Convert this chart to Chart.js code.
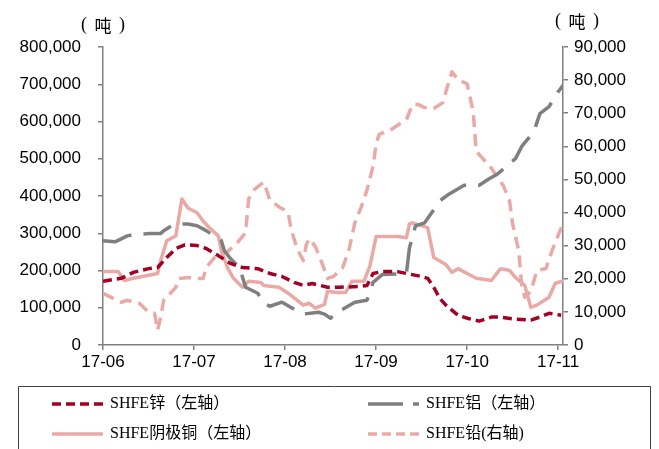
<!DOCTYPE html>
<html>
<head>
<meta charset="utf-8">
<script src="https://cdn.jsdelivr.net/npm/chart.js@4"></script>
<style>
  html, body { margin: 0; padding: 0; background: #fff; }
  #wrap { width: 659px; height: 449px; position: relative; }
</style>
</head>
<body>
<div id="wrap"><canvas id="c" width="659" height="449"></canvas></div>
<script>
// x positions are days counted from 2017-06-01 (30 per month on the axis)
const monthLabels = ['17-06', '17-07', '17-08', '17-09', '17-10', '17-11'];
const monthTicks = [0, 30, 60, 90, 120, 150];

const zincDays = [0, 6, 10, 15, 18, 21, 24, 27, 31, 34, 38, 42, 46, 51, 55, 59, 63, 66, 69, 74, 78, 84, 87, 89, 92, 97, 100, 105, 107, 109, 111, 113, 117, 120, 124, 128, 131, 136, 141, 144, 147, 151];
const zincValues = [171000, 179000, 195000, 205000, 208000, 235000, 259000, 269000, 267000, 259000, 240000, 219000, 208000, 205000, 192000, 184000, 168000, 160000, 165000, 155000, 155000, 157000, 160000, 192000, 197000, 197000, 192000, 184000, 179000, 155000, 125000, 107000, 80000, 72000, 64000, 75000, 75000, 69000, 67000, 75000, 85000, 80000];

const aluDays = [0, 4, 6, 8, 10, 15, 19, 20, 22, 24, 28, 31, 34, 36, 39, 40, 42, 45, 47, 51, 53, 55, 59, 63, 66, 71, 73, 75, 77, 79, 83, 87, 89, 92, 100, 101, 103, 106, 109, 111, 114, 119, 124, 127, 130, 133, 136, 138, 142, 144, 147, 150, 152];
const aluValues = [280000, 277000, 285000, 293000, 296000, 299000, 299000, 307000, 317000, 325000, 325000, 320000, 307000, 296000, 280000, 253000, 232000, 208000, 155000, 139000, 112000, 104000, 115000, 96000, 83000, 88000, 83000, 72000, 88000, 96000, 115000, 120000, 168000, 189000, 192000, 261000, 320000, 328000, 363000, 387000, 405000, 429000, 429000, 445000, 459000, 480000, 501000, 533000, 573000, 621000, 640000, 680000, 701000];

const copperDays = [0, 5, 7, 10, 13, 18, 19, 21, 24, 26, 28, 31, 33, 35, 38, 39, 41, 43, 46, 48, 52, 53, 58, 61, 66, 68, 70, 73, 74, 77, 80, 82, 86, 88, 90, 97, 100, 101, 102, 107, 109, 113, 115, 117, 120, 123, 128, 131, 134, 136, 139, 141, 143, 147, 149, 152];
const copperValues = [197000, 197000, 173000, 179000, 184000, 192000, 227000, 280000, 293000, 392000, 368000, 355000, 333000, 315000, 293000, 253000, 208000, 179000, 155000, 171000, 168000, 160000, 155000, 139000, 107000, 112000, 99000, 109000, 144000, 141000, 141000, 171000, 171000, 213000, 291000, 291000, 288000, 325000, 328000, 315000, 235000, 216000, 195000, 205000, 192000, 179000, 173000, 205000, 200000, 181000, 160000, 101000, 107000, 128000, 165000, 173000];

const leadDays = [0, 6, 8, 12, 15, 17, 18, 19, 20, 24, 25, 28, 31, 33, 34, 37, 41, 44, 47, 48, 50, 53, 55, 58, 61, 62, 64, 66, 67, 68, 70, 72, 74, 76, 79, 81, 83, 85, 87, 89, 90, 91, 95, 100, 102, 104, 106, 109, 112, 113, 115, 117, 120, 122, 123, 126, 128, 132, 134, 135, 137, 138, 139, 141, 143, 146, 148, 151, 152];
const leadValues = [15600, 12900, 13500, 12600, 9900, 9600, 4500, 8400, 13500, 17400, 20100, 20400, 20100, 20100, 23400, 26700, 28200, 30600, 33900, 44100, 47100, 49200, 43800, 41700, 40200, 34800, 29100, 25500, 30300, 32100, 29700, 25200, 20100, 20700, 23400, 28500, 36900, 41400, 46800, 54000, 60600, 63600, 65100, 68100, 72600, 72600, 71700, 71400, 73200, 76500, 82500, 80100, 78900, 70500, 58500, 55500, 53400, 48000, 43500, 36600, 28500, 18000, 14400, 16200, 22500, 23100, 28500, 35400, 37500];

const seriesNames = ['SHFE锌（左轴）', 'SHFE铝（左轴）', 'SHFE阴极铜（左轴）', 'SHFE铅(右轴)'];

const RED = '#a50021';
const GRAY = '#7f7f7f';
const PINK = '#e9aaa6';
const AXIS = '#808080';

const pts = (days, vals) => days.map((d, i) => ({ x: d, y: vals[i] }));

const tickFont = { family: "'Liberation Sans', Arial, sans-serif", size: 17 };

const axisGrid = {
  drawOnChartArea: false,
  drawTicks: true,
  tickLength: 5,
  color: AXIS,
  lineWidth: 1.5,
};

// unit label "（吨）" drawn piece by piece so it spreads like the original
function unitLabel(ctx, cx, cy) {
  ctx.font = "18px 'Liberation Serif', serif";
  ctx.fillText('(', cx - 19, cy - 1);
  ctx.fillText(')', cx + 19, cy - 1);
  ctx.font = "17px 'Noto Sans CJK SC', sans-serif";
  ctx.fillText('吨', cx, cy);
}

// legend + unit labels, drawn after the chart
const extras = {
  id: 'extras',
  afterDraw(chart) {
    const ctx = chart.ctx;
    ctx.save();
    ctx.fillStyle = '#000';
    ctx.textBaseline = 'middle';
    ctx.textAlign = 'center';
    unitLabel(ctx, 103, 26);
    unitLabel(ctx, 577, 22);

    // legend frame
    ctx.strokeStyle = '#404040';
    ctx.lineWidth = 1;
    ctx.beginPath();
    ctx.moveTo(18.5, 449);
    ctx.lineTo(18.5, 386.5);
    ctx.lineTo(650.5, 386.5);
    ctx.lineTo(650.5, 449);
    ctx.stroke();

    const items = [
      { x: 52, y: 404, color: RED, dash: [9, 5] },
      { x: 368, y: 404, color: GRAY, dash: [35, 10] },
      { x: 52, y: 434, color: PINK, dash: [] },
      { x: 368, y: 434, color: PINK, dash: [9, 5] },
    ];
    items.forEach((it, i) => {
      ctx.strokeStyle = it.color;
      ctx.lineWidth = 3.5;
      ctx.setLineDash(it.dash);
      ctx.beginPath();
      ctx.moveTo(it.x, it.y);
      ctx.lineTo(it.x + 51, it.y);
      ctx.stroke();
      ctx.setLineDash([]);
      ctx.fillStyle = '#000';
      ctx.textAlign = 'left';
      ctx.font = "16px 'Liberation Serif', 'Noto Sans CJK SC', serif";
      ctx.fillText(seriesNames[i], it.x + 58, it.y);
    });
    ctx.restore();
  },
};

new Chart(document.getElementById('c'), {
  type: 'line',
  data: {
    datasets: [
      {
        label: seriesNames[0],
        data: pts(zincDays, zincValues),
        borderColor: RED,
        borderWidth: 3.5,
        borderDash: [9, 5],
        yAxisID: 'y',
      },
      {
        label: seriesNames[1],
        data: pts(aluDays, aluValues),
        borderColor: GRAY,
        borderWidth: 3.5,
        borderDash: [30, 12],
        yAxisID: 'y',
      },
      {
        label: seriesNames[2],
        data: pts(copperDays, copperValues),
        borderColor: PINK,
        borderWidth: 3.5,
        yAxisID: 'y',
      },
      {
        label: seriesNames[3],
        data: pts(leadDays, leadValues),
        borderColor: PINK,
        borderWidth: 3.5,
        borderDash: [12, 7],
        yAxisID: 'y1',
      },
    ],
  },
  options: {
    responsive: false,
    animation: false,
    events: [],
    layout: { padding: { top: 47, left: 0, right: 0, bottom: 0 } },
    elements: {
      point: { radius: 0 },
      line: { tension: 0, fill: false, borderJoinStyle: 'round' },
    },
    plugins: {
      legend: { display: false },
      tooltip: { enabled: false },
    },
    scales: {
      x: {
        type: 'linear',
        min: 0,
        max: 151.6,
        afterBuildTicks: (s) => { s.ticks = monthTicks.map(v => ({ value: v })); },
        afterFit: (s) => { s.height = 104; },
        ticks: {
          color: '#000',
          font: tickFont,
          padding: 2,
          maxRotation: 0,
          autoSkip: false,
          callback: (v) => monthLabels[monthTicks.indexOf(v)],
        },
        grid: axisGrid,
        border: { color: AXIS, width: 1.5 },
      },
      y: {
        position: 'left',
        min: 0,
        max: 800000,
        afterFit: (s) => { s.width = 103; },
        ticks: {
          stepSize: 100000,
          color: '#000',
          font: tickFont,
          padding: 17,
          callback: (v) => v.toLocaleString('en-US'),
        },
        grid: axisGrid,
        border: { color: AXIS, width: 1.5 },
      },
      y1: {
        position: 'right',
        min: 0,
        max: 90000,
        afterFit: (s) => { s.width = 96; },
        ticks: {
          stepSize: 10000,
          color: '#000',
          font: tickFont,
          padding: 6,
          callback: (v) => v.toLocaleString('en-US'),
        },
        grid: axisGrid,
        border: { color: AXIS, width: 1.5 },
      },
    },
  },
  plugins: [extras],
});
</script>
</body>
</html>
